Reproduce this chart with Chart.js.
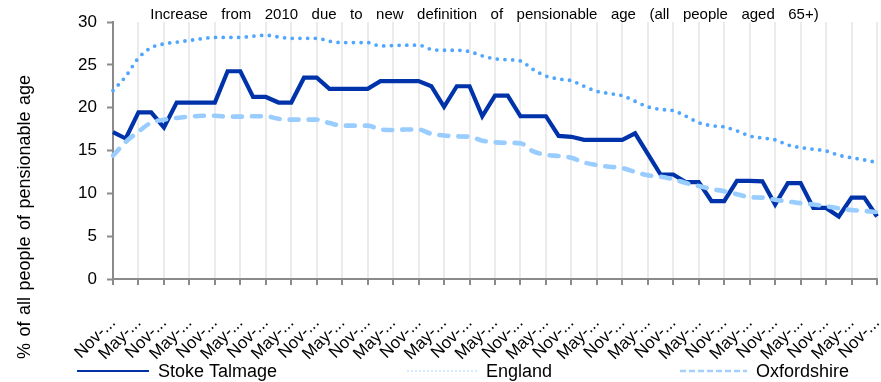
<!DOCTYPE html>
<html>
<head>
<meta charset="utf-8">
<script src="https://cdn.jsdelivr.net/npm/chart.js@4/dist/chart.umd.min.js"></script>
<style>
  html, body { margin: 0; padding: 0; background: #ffffff; }
  #wrap { width: 881px; height: 382px; }
</style>
</head>
<body>
<div id="wrap"><canvas id="c" width="881" height="382"></canvas></div>
<script>
// Quarterly periods, Nov 2010 to Nov 2025
const categories = [
  "Nov-10",
  "Feb-11","May-11","Aug-11","Nov-11",
  "Feb-12","May-12","Aug-12","Nov-12",
  "Feb-13","May-13","Aug-13","Nov-13",
  "Feb-14","May-14","Aug-14","Nov-14",
  "Feb-15","May-15","Aug-15","Nov-15",
  "Feb-16","May-16","Aug-16","Nov-16",
  "Feb-17","May-17","Aug-17","Nov-17",
  "Feb-18","May-18","Aug-18","Nov-18",
  "Feb-19","May-19","Aug-19","Nov-19",
  "Feb-20","May-20","Aug-20","Nov-20",
  "Feb-21","May-21","Aug-21","Nov-21",
  "Feb-22","May-22","Aug-22","Nov-22",
  "Feb-23","May-23","Aug-23","Nov-23",
  "Feb-24","May-24","Aug-24","Nov-24",
  "Feb-25","May-25","Aug-25","Nov-25"
];

// % of all people of pensionable age
const stokeTalmage = [
  17.15, 16.4, 19.45, 19.45, 17.7, 20.6, 20.6, 20.6, 20.6, 24.25, 24.25,
  21.25, 21.25, 20.6, 20.6, 23.5, 23.5, 22.2, 22.2, 22.2, 22.2,
  23.1, 23.1, 23.1, 23.1, 22.5, 20.1, 22.5, 22.5, 19.0, 21.4,
  21.4, 19.0, 19.0, 19.0, 16.7, 16.6, 16.25, 16.25, 16.25, 16.25,
  17.0, 14.6, 12.2, 12.2, 11.3, 11.3, 9.1, 9.1, 11.45, 11.45,
  11.4, 8.7, 11.2, 11.2, 8.3, 8.3, 7.3, 9.5, 9.5, 7.3
];
const england = [
  22.0, 23.65, 25.8, 27.0, 27.45, 27.65, 27.85, 28.05, 28.2, 28.2, 28.2,
  28.35, 28.45, 28.25, 28.1, 28.1, 28.1, 27.75, 27.6, 27.6, 27.6,
  27.2, 27.25, 27.3, 27.3, 26.8, 26.7, 26.7, 26.55, 26.05, 25.7,
  25.6, 25.45, 24.45, 23.7, 23.35, 23.15, 22.5, 21.9, 21.65, 21.4,
  20.75, 20.1, 19.8, 19.65, 19.0, 18.25, 17.9, 17.75, 17.3, 16.7,
  16.45, 16.25, 15.65, 15.35, 15.15, 14.95, 14.45, 14.15, 13.9, 13.6
];
const oxfordshire = [
  14.4, 16.0, 17.2, 18.25, 18.6, 18.8, 18.95, 19.05, 19.05, 18.95, 18.95,
  19.0, 19.0, 18.7, 18.6, 18.6, 18.6, 18.2, 17.9, 17.9, 17.9,
  17.45, 17.4, 17.45, 17.45, 16.95, 16.75, 16.65, 16.6, 16.15, 15.95,
  15.9, 15.85, 14.9, 14.5, 14.35, 14.15, 13.6, 13.3, 13.1, 12.95,
  12.5, 12.1, 11.95, 11.65, 11.2, 10.85, 10.5, 10.25, 9.9, 9.55,
  9.5, 9.25, 9.05, 8.85, 8.7, 8.5, 8.25, 8.05, 7.95, 7.8
];

const yTicks = [0, 5, 10, 15, 20, 25, 30];

const FONT = "'Liberation Sans', Arial, sans-serif";
const AXIS_GREY = '#8a8a8a';
const GRID_GREY = '#ebebeb';

const titleText = 'Increase from 2010 due to new definition of pensionable age (all people aged 65+)';
const yTitleText = '% of all people of pensionable age';

const legendItems = [
  { label: 'Stoke Talmage', color: '#0033aa', width: 2,   dash: [],     x: 77,  len: 72 },
  { label: 'England',       color: '#c9e4ff', width: 1.5, dash: [2, 2], x: 407, len: 70 },
  { label: 'Oxfordshire',   color: '#a3d0ff', width: 2.5, dash: [6, 3], x: 680, len: 67 }
];

// Draws text centred on (cx, cy) with extra space between words
function spacedText(ctx, text, cx, cy, extra) {
  const words = text.split(' ');
  const sp = ctx.measureText(' ').width + extra;
  const widths = words.map(w => ctx.measureText(w).width);
  const total = widths.reduce((a, b) => a + b, 0) + sp * (words.length - 1);
  let x = cx - total / 2;
  ctx.textAlign = 'left';
  ctx.textBaseline = 'middle';
  words.forEach((w, i) => { ctx.fillText(w, x, cy); x += widths[i] + sp; });
}

const decorations = {
  id: 'decorations',
  afterDraw(chart) {
    const ctx = chart.ctx;
    ctx.save();
    ctx.fillStyle = '#000';

    // title
    ctx.font = '15px ' + FONT;
    spacedText(ctx, titleText, 484.5, 15, 9.3);

    // vertical axis title
    ctx.save();
    ctx.font = '18px ' + FONT;
    ctx.translate(25, 217);
    ctx.rotate(-Math.PI / 2);
    spacedText(ctx, yTitleText, 0, 0, 1.5);
    ctx.restore();

    // legend
    const ly = 371;
    ctx.font = '18px ' + FONT;
    legendItems.forEach(it => {
      ctx.save();
      ctx.strokeStyle = it.color;
      ctx.lineWidth = it.width;
      ctx.setLineDash(it.dash);
      ctx.beginPath();
      ctx.moveTo(it.x, ly);
      ctx.lineTo(it.x + it.len, ly);
      ctx.stroke();
      ctx.restore();
      ctx.textAlign = 'left';
      ctx.textBaseline = 'middle';
      ctx.fillText(it.label, it.x + it.len + 9, ly + 1);
    });
    ctx.restore();
  }
};

new Chart(document.getElementById('c'), {
  type: 'line',
  data: {
    labels: categories,
    datasets: [
      {
        label: 'Stoke Talmage',
        data: stokeTalmage,
        borderColor: '#0033aa',
        borderWidth: 4.2,
        tension: 0,
        pointRadius: 0,
        borderJoinStyle: 'miter',
        order: 2
      },
      {
        label: 'England',
        data: england,
        borderColor: '#4fa6ff',
        borderWidth: 3.8,
        borderDash: [0, 7.7],
        borderCapStyle: 'round',
        cubicInterpolationMode: 'monotone',
        pointRadius: 0,
        order: 1
      },
      {
        label: 'Oxfordshire',
        data: oxfordshire,
        borderColor: '#99ccff',
        borderWidth: 4.6,
        borderDash: [9, 10],
        borderCapStyle: 'round',
        cubicInterpolationMode: 'monotone',
        pointRadius: 0,
        order: 0
      }
    ]
  },
  options: {
    responsive: false,
    animation: false,
    devicePixelRatio: 1,
    layout: { padding: { top: 22, right: 4, bottom: 0, left: 0 } },
    plugins: {
      legend: { display: false },
      title: { display: false },
      tooltip: { enabled: false }
    },
    scales: {
      x: {
        type: 'category',
        offset: false,
        border: { color: AXIS_GREY, width: 2 },
        grid: {
          color: c => (c.index % 2 === 0 ? GRID_GREY : 'rgba(0,0,0,0)'),
          lineWidth: 2,
          drawTicks: true,
          tickLength: 6,
          tickWidth: 2,
          tickColor: c => (c.index % 2 === 0 ? AXIS_GREY : 'rgba(0,0,0,0)')
        },
        ticks: {
          autoSkip: false,
          minRotation: 45,
          maxRotation: 45,
          padding: 28,
          color: '#000',
          font: { family: FONT, size: 17 },
          callback: (v, i) => (i % 2 === 0 ? categories[i].slice(0, 4) + '...' : '')
        },
        afterFit(scale) {
          scale.height = 103;
          scale.paddingLeft = 0;
          scale.paddingRight = 0;
        }
      },
      y: {
        min: 0,
        max: 30,
        border: { color: AXIS_GREY, width: 2 },
        grid: {
          drawOnChartArea: false,
          drawTicks: true,
          tickLength: 6,
          tickWidth: 2,
          tickColor: AXIS_GREY
        },
        afterBuildTicks(scale) {
          scale.ticks = yTicks.map(v => ({ value: v }));
        },
        ticks: {
          padding: 10,
          color: '#000',
          font: { family: FONT, size: 17 }
        },
        afterFit(scale) {
          scale.width = 113;
        }
      }
    }
  },
  plugins: [decorations]
});
</script>
</body>
</html>
